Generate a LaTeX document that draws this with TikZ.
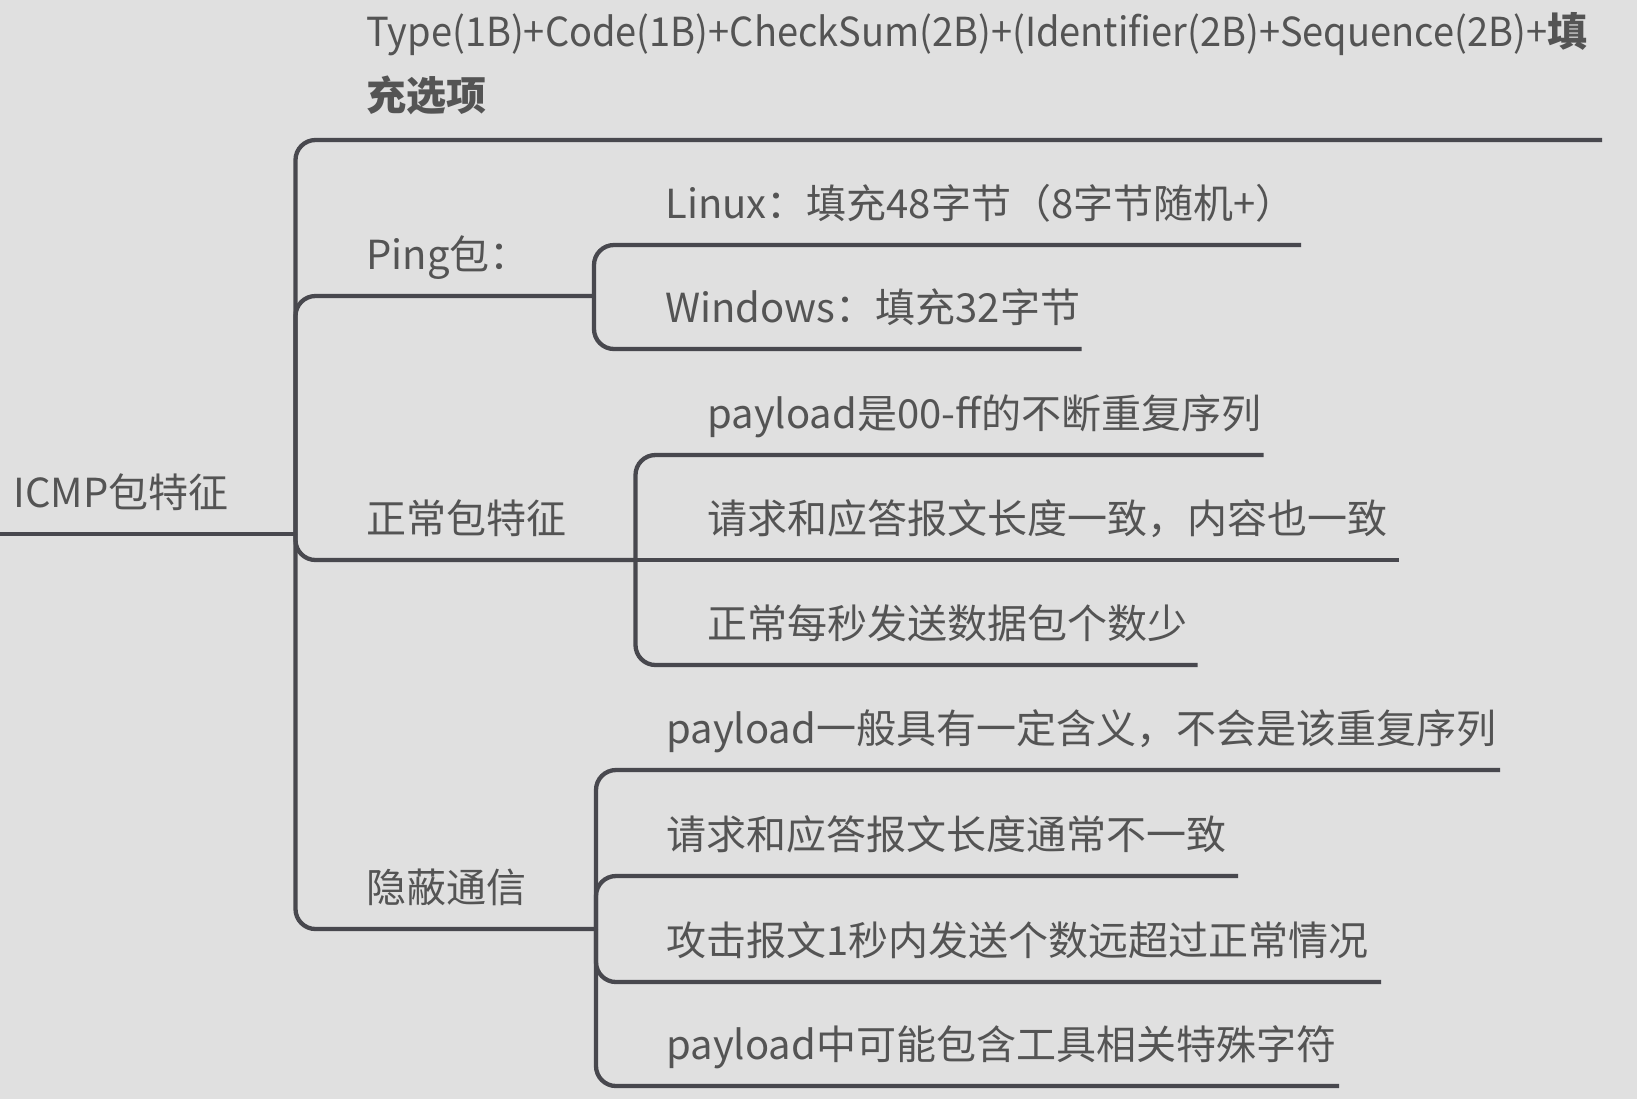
\documentclass[tikz,border=0pt]{standalone}
\usepackage{fontspec}
\setmainfont{Noto Sans CJK SC}
\newfontfamily\narrowfont[FakeStretch=0.95]{Noto Sans CJK SC}
\usetikzlibrary{positioning}
\definecolor{mapbg}{RGB}{224,224,224}
\definecolor{mapline}{RGB}{72,72,78}
\definecolor{maptext}{RGB}{84,84,84}
\begin{document}
\begin{tikzpicture}[
  x=0.5pt, y=-0.5pt,
  topic/.style={anchor=base west, inner sep=0pt, text=maptext, align=left, font=\fontsize{20}{32}\selectfont},
  link/.style={draw=mapline, line width=2.15pt, rounded corners=10pt}
]
  \fill[mapbg] (0,0) rectangle (1637,1099);
  \useasboundingbox (0,0) rectangle (1637,1099);

  % root and first level
  \node[topic] (icmp) at (13,507) {ICMP包特征};
  \coordinate (icmpL) at (0,534);
  \coordinate (icmpJ) at (295.5,534);

  \node[topic] (fmt) at (366,110) {{\narrowfont Type(1B)+Code(1B)+CheckSum(2B)+(Identifier(2B)+Sequence(2B)+}\textbf{填}\\\textbf{充选项}};
  \coordinate (fmtE) at (1602,140);

  \node[topic] (ping) at (366,269) {Ping包：};
  \coordinate (pingJ) at (594,296);

  \node[topic] (normal) at (366,533) {正常包特征};
  \coordinate (normalJ) at (635.5,560);

  \node[topic] (covert) at (366,902) {隐蔽通信};
  \coordinate (covertJ) at (596,929);

  % Ping children
  \node[topic] (linux) at (665,218) {Linux：填充48字节（8字节随机+）};
  \coordinate (linuxE) at (1301,245);
  \node[topic] (win) at (665,322) {Windows：填充32字节};
  \coordinate (winE) at (1081.5,349);

  % normal children
  \node[topic] (nrmA) at (707,428) {payload是00-ff的不断重复序列};
  \coordinate (nrmAE) at (1263.5,455);
  \node[topic] (nrmB) at (707,533) {请求和应答报文长度一致，内容也一致};
  \coordinate (nrmBE) at (1399,560);
  \node[topic] (nrmC) at (707,638) {正常每秒发送数据包个数少};
  \coordinate (nrmCE) at (1197.5,665);

  % covert children
  \node[topic] (covA) at (666,743) {payload一般具有一定含义，不会是该重复序列};
  \coordinate (covAE) at (1500,770);
  \node[topic] (covB) at (666,849) {请求和应答报文长度通常不一致};
  \coordinate (covBE) at (1238,876);
  \node[topic] (covC) at (666,955) {攻击报文1秒内发送个数远超过正常情况};
  \coordinate (covCE) at (1381,982);
  \node[topic] (covD) at (666,1059) {payload中可能包含工具相关特殊字符};
  \coordinate (covDE) at (1339,1086);

  % connectors
  \draw[link] (icmpL) -- (icmpJ);
  \draw[link] (icmpJ) |- (fmtE);
  \draw[link] (icmpJ) |- (pingJ);
  \draw[link] (icmpJ) |- (normalJ);
  \draw[link] (icmpJ) |- (covertJ);

  \draw[link] (pingJ) |- (linuxE);
  \draw[link] (pingJ) |- (winE);

  \draw[link] (normalJ) |- (nrmAE);
  \draw[link] (normalJ) -- (nrmBE);
  \draw[link] (normalJ) |- (nrmCE);

  \draw[link] (covertJ) |- (covAE);
  \draw[link] (covertJ) |- (covBE);
  \draw[link] (covertJ) |- (covCE);
  \draw[link] (covertJ) |- (covDE);
\end{tikzpicture}
\end{document}
